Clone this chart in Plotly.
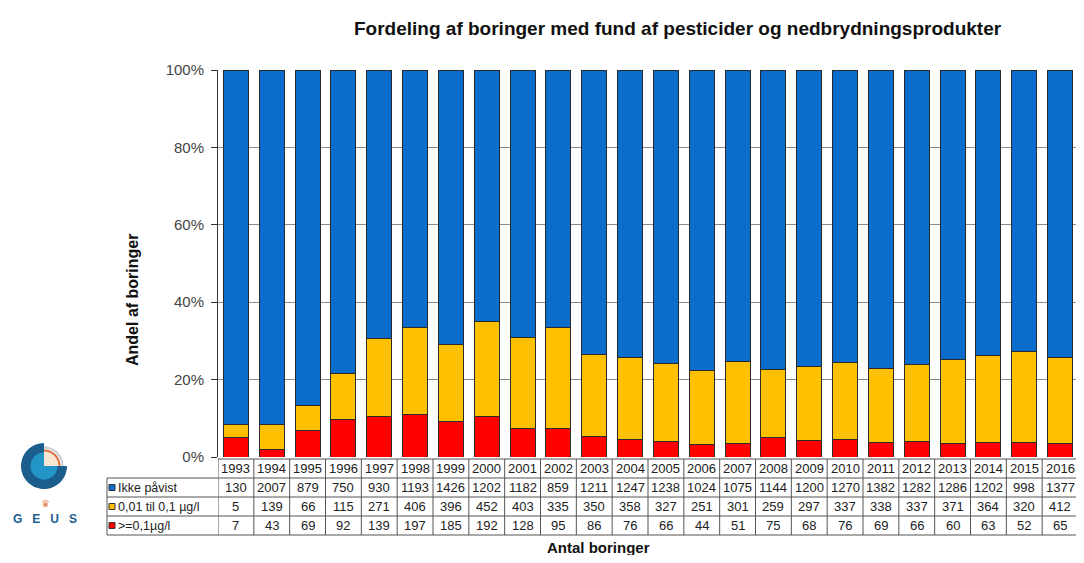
import math
import plotly.graph_objects as go

years = [str(y) for y in range(1993, 2017)]
ikke_pavist = [130, 2007, 879, 750, 930, 1193, 1426, 1202, 1182, 859, 1211, 1247,
               1238, 1024, 1075, 1144, 1200, 1270, 1382, 1282, 1286, 1202, 998, 1377]
lav = [5, 139, 66, 115, 271, 406, 396, 452, 403, 335, 350, 358,
       327, 251, 301, 259, 297, 337, 338, 337, 371, 364, 320, 412]
hoej = [7, 43, 69, 92, 139, 197, 185, 192, 128, 95, 86, 76,
        66, 44, 51, 75, 68, 76, 69, 66, 60, 63, 52, 65]
series_names = ["Ikke påvist", "0,01 til 0,1 µg/l", ">=0,1µg/l"]
colors = ["#0A6CCB", "#FFC000", "#FF0000"]
y_ticks = [0, 20, 40, 60, 80, 100]

OFF = 8                      # page body margin
W, H = 1070, 547
L, R, T, B = 210, 0, 62, 98
PW, PH = W - L - R, H - T - B

def px(X):                   # screen pixel -> paper
    return (X - OFF - L) / PW

def py(Y):
    return (H - B - (Y - OFF)) / PH

fig = go.Figure()
for name, vals, col in [(series_names[2], hoej, colors[2]),
                        (series_names[1], lav, colors[1]),
                        (series_names[0], ikke_pavist, colors[0])]:
    fig.add_trace(go.Bar(x=years, y=vals, name=name, marker_color=col,
                         marker_line=dict(color="#2a2a2a", width=1),
                         hovertemplate="%{x}: %{y}<extra>" + name + "</extra>"))

shapes = []
annotations = []
FONT = "Liberation Sans, Arial, sans-serif"
line_style = dict(color="#555555", width=1)

def note(x, y, text, size, color="#222", xref="paper", xanchor="center", **kw):
    annotations.append(dict(x=x, y=y, xref=xref, yref="paper", text=text,
                            showarrow=False, xanchor=xanchor, yanchor="middle",
                            font=dict(family=FONT, size=size, color=color), **kw))

row_y = [459, 478, 497, 516, 535]
yp = [py(v) for v in row_y]
rows = [ikke_pavist, lav, hoej]

for i in range(len(years) + 1):
    xi = i - 0.5 if i < len(years) else i - 0.52
    shapes.append(dict(type="line", xref="x", yref="paper", x0=xi, x1=xi,
                       y0=yp[0], y1=yp[4], line=line_style, layer="above"))
shapes.append(dict(type="line", xref="paper", yref="paper", x0=0, x1=1,
                   y0=yp[0], y1=yp[0], line=line_style))
for k in range(1, 5):
    shapes.append(dict(type="line", xref="paper", yref="paper", x0=px(107), x1=1,
                       y0=yp[k], y1=yp[k], line=line_style))
shapes.append(dict(type="line", xref="paper", yref="paper", x0=px(107), x1=px(107),
                   y0=yp[1], y1=yp[4], line=line_style))

for i, yr in enumerate(years):
    note(i, (yp[0] + yp[1]) / 2, yr, 13, xref="x")
    for r, vals in enumerate(rows):
        note(i, (yp[r + 1] + yp[r + 2]) / 2, str(vals[i]), 13, xref="x")

for r, (nm, col) in enumerate(zip(series_names, colors)):
    yc = (row_y[r + 1] + row_y[r + 2]) / 2
    shapes.append(dict(type="rect", xref="paper", yref="paper",
                       x0=px(109), x1=px(115), y0=py(yc + 3), y1=py(yc - 3),
                       fillcolor=col, line=dict(color="#333", width=1)))
    note(px(116), py(yc), nm, 12.5, xanchor="left")

note(px(598), py(547), "<b>Antal boringer</b>", 15, color="#111")
note(px(132), py(300), "<b>Andel af boringer</b>", 16, color="#111", textangle=-90)
note(px(678), py(28),
     "<b>Fordeling af boringer med fund af pesticider og nedbrydningsprodukter</b>",
     19, color="#111")

# GEUS logo (decoration)
def sector(cx, cy, r, a0, a1, n=40):
    pts = [(cx, cy)]
    for k in range(n + 1):
        a = math.radians(a0 + (a1 - a0) * k / n)
        pts.append((cx + r * math.cos(a), cy - r * math.sin(a)))
    return "M " + " L ".join(f"{px(x):.5f} {py(y):.5f}" for x, y in pts) + " Z"

def arc(cx, cy, r, a0, a1, n=30):
    pts = []
    for k in range(n + 1):
        a = math.radians(a0 + (a1 - a0) * k / n)
        pts.append((cx + r * math.cos(a), cy - r * math.sin(a)))
    return "M " + " L ".join(f"{px(x):.5f} {py(y):.5f}" for x, y in pts)

cx, cy = 44, 466
for path, col in [(sector(cx, cy, 23, 90, 360), "#1B5E8E"),
                  (sector(cx, cy, 13.5, 90, 360), "#2396C8"),
                  (sector(cx, cy, 15, 0, 90), "#F8E6D3")]:
    shapes.append(dict(type="path", xref="paper", yref="paper", path=path,
                       fillcolor=col, line=dict(width=0)))
shapes.append(dict(type="path", xref="paper", yref="paper", path=arc(cx, cy, 15.5, 0, 90),
                   line=dict(color="#E0703F", width=2)))
shapes.append(dict(type="path", xref="paper", yref="paper", path=arc(cx, cy, 18.5, 0, 90),
                   line=dict(color="#C9CBCF", width=2)))
note(px(45), py(504), "♛", 10, color="#E58A5A")
note(px(45), py(519), "<b>G   E   U   S</b>", 12, color="#1B5E8E")

fig.update_layout(
    width=W, height=H, barmode="stack", barnorm="percent", bargap=0.3,
    margin=dict(l=L, r=R, t=T, b=B),
    plot_bgcolor="white", paper_bgcolor="white",
    showlegend=False, shapes=shapes, annotations=annotations,
    xaxis=dict(type="category", showticklabels=False, showgrid=False, ticks="",
               range=[-0.5, len(years) - 0.5], fixedrange=True),
    yaxis=dict(range=[0, 100], tickvals=y_ticks, ticktext=[f"{v}%" for v in y_ticks],
               showgrid=True, gridcolor="#8a8a8a", gridwidth=1,
               showline=True, linecolor="#333", linewidth=1,
               ticks="outside", ticklen=6, tickcolor="#333", ticklabelstandoff=4,
               tickfont=dict(family=FONT, size=15, color="#444"), zeroline=False),
)

fig.write_html("out.html")
